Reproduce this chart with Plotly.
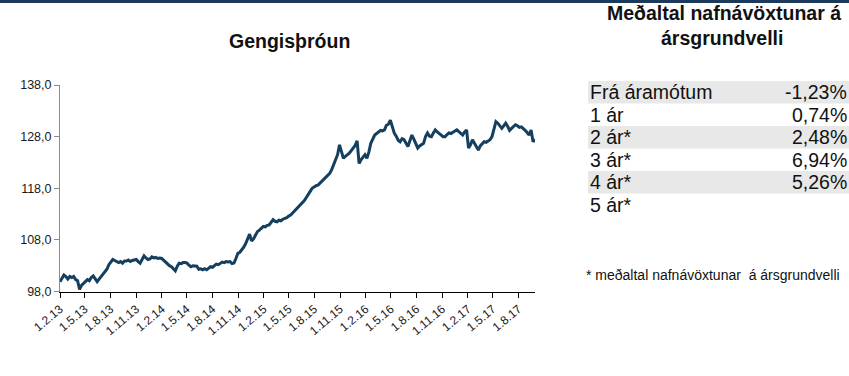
import pandas as pd
import plotly.graph_objects as go

W, H = 849, 376

# Weekly exchange-rate index, first week starting 1.2.2013
first_week = "2013-02-01"
gengi = [
    99.9, 100.6, 101.2, 100.9, 100.4, 100.9, 100.7, 100.9, 100.3, 100.1,
    98.4, 99.2, 99.6, 100.0, 100.3, 100.1, 100.7, 101.0, 100.5, 99.9,
    100.4, 100.9, 101.5, 101.9, 102.3, 103.2, 103.6, 104.2, 104.0, 103.8,
    103.6, 103.8, 103.5, 103.9, 103.9, 104.1, 103.8, 104.0, 104.1, 104.2,
    103.8, 103.5, 104.2, 104.9, 104.5, 104.2, 104.3, 104.7, 104.5, 104.6,
    104.4, 104.5, 104.4, 104.0, 103.6, 103.3, 103.0, 102.8, 102.4, 102.0,
    102.9, 103.5, 103.4, 103.6, 103.6, 103.5, 103.1, 102.8, 103.0, 102.9,
    102.9, 102.3, 102.4, 102.2, 102.4, 102.2, 102.5, 102.8, 102.7, 103.0,
    103.3, 103.2, 103.5, 103.7, 103.6, 103.8, 103.7, 103.8, 103.4, 103.5,
    104.4, 105.4, 105.6, 106.0, 106.6, 107.3, 108.1, 109.1, 107.8, 108.2,
    108.9, 109.6, 109.9, 110.3, 110.6, 110.5, 110.8, 110.9, 111.3, 111.9,
    111.6, 111.5, 111.8, 111.7, 112.0, 112.1, 112.3, 112.6, 112.8, 113.2,
    113.6, 114.1, 114.4, 114.7, 115.1, 115.6, 116.2, 116.7, 117.4, 118.0,
    118.3, 118.5, 118.6, 119.0, 119.5, 119.9, 120.3, 120.6, 120.9, 121.6,
    122.5, 123.6, 124.5, 126.4, 125.1, 123.8, 124.2, 124.5, 124.8, 125.3,
    125.8, 126.3, 127.2, 122.8, 123.5, 124.1, 124.5, 123.8, 125.0, 126.7,
    127.6, 128.3, 128.6, 129.0, 129.2, 129.1, 129.3, 130.2, 130.4, 131.2,
    129.8, 128.7, 128.1, 127.3, 127.0, 127.6, 127.4, 126.8, 126.1, 127.2,
    128.3, 127.5, 126.6, 125.8, 126.2, 126.4, 126.7, 128.0, 128.7, 128.1,
    128.0, 128.7, 129.3, 128.9, 128.5, 128.3, 128.0, 128.0, 128.4, 128.7,
    128.6, 128.9, 129.1, 129.3, 128.9, 128.6, 128.3, 128.9, 129.3, 125.8,
    126.4, 127.4, 126.8, 126.0, 125.4, 126.2, 126.6, 127.0, 126.9, 127.2,
    127.4, 128.0, 129.6, 130.9, 130.6, 130.0, 129.6, 130.1, 130.6, 130.0,
    129.2, 129.6, 129.9, 130.3, 130.1, 129.8, 129.9, 129.6, 129.2, 128.8,
    128.3, 129.3, 127.0, 127.5,
]
dates = pd.date_range(first_week, periods=len(gengi), freq="7D")

# Axis ticks
x_tick_dates = pd.date_range("2013-02-01", "2017-08-01", freq="3MS")
x_tick_text = [f"{d.day}.{d.month}.{d.year % 100}" for d in x_tick_dates]
y_tick_vals = [98, 108, 118, 128, 138]
y_tick_text = [f"{v:.1f}".replace(".", ",") for v in y_tick_vals]

# Average nominal annual return table
table_labels = ["Frá áramótum", "1 ár", "2 ár*", "3 ár*", "4 ár*", "5 ár*"]
table_values = ["-1,23%", "0,74%", "2,48%", "6,94%", "5,26%", ""]

chart_title = "Gengisþróun"
table_title_lines = ["Meðaltal nafnávöxtunar á", "ársgrundvelli"]
footnote = "* meðaltal nafnávöxtunar&nbsp;&nbsp;á ársgrundvelli"

FONT = "Liberation Sans, Arial, sans-serif"
LINE_COLOR = "#143f5f"


def px_x(px):
    return px / W


def px_y(py):
    return 1 - py / H


def label(text, x, y, size, anchor="center"):
    return dict(text=text, x=px_x(x), y=px_y(y), xref="paper", yref="paper",
                showarrow=False, xanchor=anchor, yanchor="middle",
                borderpad=0, font=dict(size=size, family=FONT, color="#111111"))


fig = go.Figure()
fig.add_trace(go.Scatter(
    x=dates, y=gengi, mode="lines",
    line=dict(color=LINE_COLOR, width=3),
    hoverinfo="skip", showlegend=False,
))

fig.update_layout(
    width=W, height=H,
    margin=dict(l=0, r=0, t=0, b=0),
    paper_bgcolor="white", plot_bgcolor="white",
    font=dict(family=FONT, color="#1a1a1a"),
    xaxis=dict(
        domain=[px_x(60), px_x(535)],
        range=["2013-02-01", "2017-09-29"],
        tickvals=x_tick_dates, ticktext=x_tick_text,
        tickangle=-40, tickfont=dict(size=12, color="#1a1a1a"),
        showgrid=False, zeroline=False, automargin=False,
        showline=True, linecolor="#000000", linewidth=1,
        ticks="outside", ticklen=5, tickcolor="#000000", tickwidth=1,
    ),
    yaxis=dict(
        domain=[px_y(291.5), px_y(85)],
        range=[98, 138],
        tickvals=y_tick_vals, ticktext=y_tick_text,
        tickfont=dict(size=12.5, color="#1a1a1a"),
        showgrid=False, zeroline=False, automargin=False,
        showline=True, linecolor="#8a8a8a", linewidth=1,
        ticks="outside", ticklen=5, tickcolor="#8a8a8a", tickwidth=1,
    ),
)

shapes = [
    # dark band along the top edge
    dict(type="rect", xref="paper", yref="paper",
         x0=0, x1=1, y0=px_y(3), y1=1,
         fillcolor="#1b3a5c", line=dict(width=0), layer="above"),
]

annotations = [
    label(f"<b>{chart_title}</b>", 289, 41, 19.5),
    label(f"<b>{table_title_lines[0]}</b>", 724, 13, 19.5),
    label(f"<b>{table_title_lines[1]}</b>", 722, 38, 19.5),
    label(footnote, 585, 275, 14, "left"),
]

row_top, row_h = 81, 22.5
for i, (lab, val) in enumerate(zip(table_labels, table_values)):
    y0 = row_top + i * row_h
    yc = y0 + row_h / 2
    if i % 2 == 0 and val:
        shapes.append(dict(type="rect", xref="paper", yref="paper",
                           x0=px_x(588), x1=1, y0=px_y(y0 + row_h), y1=px_y(y0),
                           fillcolor="#e8e8e8", line=dict(width=0), layer="below"))
    annotations.append(label(lab, 589, yc, 19.5, "left"))
    if val:
        annotations.append(label(val, 848, yc, 19.5, "right"))

fig.update_layout(shapes=shapes, annotations=annotations)
fig.write_html("out.html")
